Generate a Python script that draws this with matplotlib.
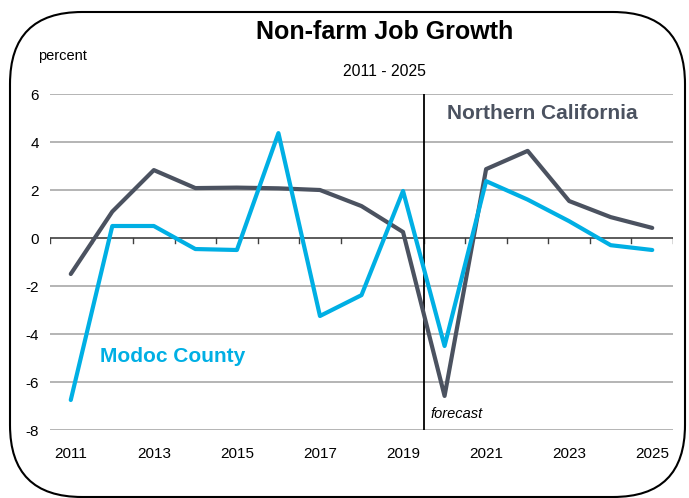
import matplotlib
matplotlib.use("Agg")
import matplotlib.pyplot as plt
from matplotlib.patches import FancyBboxPatch
import numpy as np

years = list(range(2011, 2026))
northern_california = [-1.5, 1.1, 2.83, 2.08, 2.1, 2.07, 2.0, 1.33, 0.25, -6.58, 2.87, 3.63, 1.54, 0.87, 0.42]
modoc_county = [-6.75, 0.5, 0.5, -0.46, -0.5, 4.37, -3.25, -2.38, 1.96, -4.5, 2.37, 1.6, 0.7, -0.3, -0.5]
year_labels = [str(y) for y in years[::2]]
y_ticks = [6, 4, 2, 0, -2, -4, -6, -8]

nc_color = "#4b5260"
modoc_color = "#00afe4"
narrow = ["Liberation Sans Narrow", "Liberation Sans", "DejaVu Sans"]

fig = plt.figure(figsize=(6.89, 4.98), dpi=100)

# rounded frame drawn in pixel space
bg = fig.add_axes([0, 0, 1, 1])
bg.set_xlim(0, 689)
bg.set_ylim(0, 498)
bg.axis("off")
frame = FancyBboxPatch((10, 1), 675, 485, boxstyle="round,pad=0,rounding_size=72",
                       fc="white", ec="black", lw=1.5)
bg.add_patch(frame)

ax = fig.add_axes([50 / 689, 1 - 430 / 498, (673 - 50) / 689, (430 - 94) / 498])
ax.set_facecolor("none")
ax.set_xlim(2010.5, 2025.5)
ax.set_ylim(-8, 6)

for v in y_ticks:
    if v != 0:
        ax.axhline(v, color="#b4b4b4", lw=1.4, zorder=1)
ax.axhline(0, color="#404040", lw=1.2, zorder=2)

# category tick marks hanging below the zero line
for b in np.arange(2010.5, 2026, 1.0):
    ax.plot([b, b], [0, -0.22], color="#404040", lw=1.0, zorder=2)

ax.axvline(2019.5, color="black", lw=1.3, zorder=3)

ax.plot(years, northern_california, color=nc_color, lw=3.0, zorder=4, solid_capstyle="round")
ax.plot(years, modoc_county, color=modoc_color, lw=3.0, zorder=5, solid_capstyle="round")

ax.set_yticks(y_ticks)
ax.set_yticklabels([str(v) for v in y_ticks], family=narrow, fontsize=11)
ax.set_xticks(years[::2])
ax.set_xticklabels(year_labels, family=narrow, fontsize=11)
ax.tick_params(axis="both", length=0, pad=8)
ax.tick_params(axis="x", pad=12)
for s in ax.spines.values():
    s.set_visible(False)

ax.text(2020.05, 5.2, "Northern California", color=nc_color, fontsize=15,
        fontweight="bold", family=narrow, ha="left", va="center")
ax.text(2011.7, -4.95, "Modoc County", color=modoc_color, fontsize=15,
        fontweight="bold", family=narrow, ha="left", va="center")
ax.text(2019.67, -7.35, "forecast", fontsize=10.5, style="italic", family=narrow,
        ha="left", va="center")

fig.text(385 / 689, 1 - 32 / 498, "Non-farm Job Growth", fontsize=18, fontweight="bold",
         family=narrow, ha="center", va="center")
fig.text(384 / 689, 1 - 72 / 498, "2011 - 2025", fontsize=11.3, family=narrow,
         ha="center", va="center")
fig.text(38 / 689, 1 - 56 / 498, "percent", fontsize=10.5, family=narrow,
         ha="left", va="center")

fig.savefig("out.png", dpi=100)
